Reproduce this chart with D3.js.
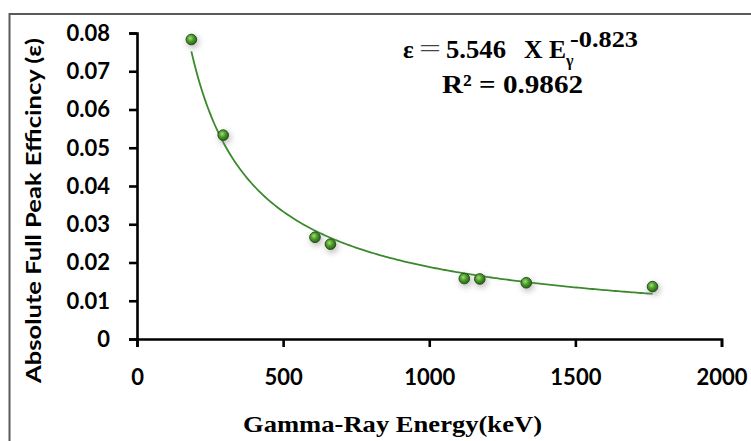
<!DOCTYPE html>
<html><head><meta charset="utf-8">
<script src="https://cdn.jsdelivr.net/npm/d3@7"></script>
<style>html,body{margin:0;padding:0;background:#fff;}svg{display:block;}</style>
</head><body>
<svg id="chart" width="751" height="441"></svg>
<script>
// ---- data ----
const energies = [186, 295, 609, 662, 1120, 1173, 1332, 1764];          // keV
const efficiencies = [0.0783, 0.0533, 0.0266, 0.0248, 0.0158, 0.0157, 0.0147, 0.0137];
const xTicks = [0, 500, 1000, 1500, 2000];
const yTicks = [0, 0.01, 0.02, 0.03, 0.04, 0.05, 0.06, 0.07, 0.08];
const yTickLabels = ["0", "0.01", "0.02", "0.03", "0.04", "0.05", "0.06", "0.07", "0.08"];
const fitA = 5.546, fitB = -0.823;   // trendline coefficients shown on the chart
const fitR2 = "0.9862";
const xTitle = "Gamma-Ray Energy(keV)";
const yTitle = "Absolute Full Peak Efficincy (ε)";

const svg = d3.select("#chart");
svg.append("rect").attr("width", 751).attr("height", 441).attr("fill", "#fff");
// frame
svg.append("rect").attr("x", 9.5).attr("y", 14).attr("width", 800).attr("height", 500)
  .attr("fill", "none").attr("stroke", "#5a5a5a").attr("stroke-width", 2);

const x = d3.scaleLinear().domain([0, 2000]).range([137, 721.5]);
const y = d3.scaleLinear().domain([0, 0.08]).range([339, 33]);

const defs = svg.append("defs");
const grad = defs.append("radialGradient").attr("id", "ball").attr("cx", "40%").attr("cy", "38%").attr("r", "65%");
grad.append("stop").attr("offset", "0%").attr("stop-color", "#a6dc78");
grad.append("stop").attr("offset", "45%").attr("stop-color", "#4f9e2c");
grad.append("stop").attr("offset", "100%").attr("stop-color", "#255e16");
const f = defs.append("filter").attr("id", "shadow").attr("x", "-100%").attr("y", "-100%").attr("width", "300%").attr("height", "300%");
f.append("feGaussianBlur").attr("stdDeviation", 3);

// axes
const yAxis = d3.axisLeft(y).tickValues(yTicks).tickSize(8).tickSizeOuter(8).tickPadding(19)
  .tickFormat((d, i) => yTickLabels[i]);
const xAxis = d3.axisBottom(x).tickValues(xTicks).tickSize(8).tickSizeOuter(8).tickPadding(20)
  .tickFormat(d3.format("d"));

const gy = svg.append("g").attr("transform", `translate(${x(0)},0)`).call(yAxis);
const gx = svg.append("g").attr("transform", `translate(0,${y(0)})`).call(xAxis);
[gx, gy].forEach(g => {
  g.selectAll("path,line").attr("stroke", "#000").attr("stroke-width", 2.6);
  g.selectAll("text").attr("fill", "#000").attr("font-family", "Lato, 'Open Sans', sans-serif")
    .attr("font-weight", "bold").attr("font-size", 22);
});
gy.selectAll("text").attr("dy", "0.34em");
gx.selectAll("text").attr("dy", "0.8em");

// trend curve
const curveE = d3.range(0, 201).map(i => energies[0] + (energies[energies.length - 1] - energies[0]) * i / 200);
const line = d3.line().x(e => x(e)).y(e => y(fitA * Math.pow(e, fitB)));
svg.append("path").datum(curveE).attr("d", line).attr("fill", "none")
  .attr("stroke", "#3a8a2c").attr("stroke-width", 1.8);

// points
const pts = energies.map((e, i) => ({ e, v: efficiencies[i] }));
svg.append("g").selectAll("circle").data(pts).join("circle")
  .attr("cx", d => x(d.e) + 1.5).attr("cy", d => y(d.v) + 2.5).attr("r", 6)
  .attr("fill", "#8a8a8a").attr("opacity", 0.6).attr("filter", "url(#shadow)");
svg.append("g").selectAll("circle").data(pts).join("circle")
  .attr("cx", d => x(d.e)).attr("cy", d => y(d.v)).attr("r", 5.3)
  .attr("fill", "url(#ball)").attr("stroke", "#22521a").attr("stroke-width", 1);

// axis titles
svg.append("text").attr("x", 243).attr("y", 432).attr("textLength", 299).attr("lengthAdjust", "spacingAndGlyphs")
  .attr("font-family", "'Liberation Serif', 'Times New Roman', serif").attr("font-weight", "bold")
  .attr("font-size", 23).attr("fill", "#000").text(xTitle);
svg.append("text").attr("transform", "translate(41,383) rotate(-90)").attr("textLength", 345)
  .attr("lengthAdjust", "spacingAndGlyphs")
  .attr("font-family", "Lato, 'Open Sans', sans-serif").attr("font-weight", "bold")
  .attr("font-size", 21).attr("fill", "#000").text(yTitle);

// equation
const serif = "'Liberation Serif', 'Times New Roman', serif";
const eq = svg.append("g").attr("font-family", serif).attr("fill", "#000");
eq.append("text").attr("x", 403).attr("y", 58).attr("font-size", 25).attr("font-weight", "bold").text("ε");
eq.append("text").attr("x", 419).attr("y", 57).attr("font-size", 25).attr("fill", "#444")
  .attr("textLength", 22).attr("lengthAdjust", "spacingAndGlyphs").text("=");
eq.append("text").attr("x", 446).attr("y", 58).attr("font-size", 25).attr("font-weight", "bold")
  .attr("textLength", 60).attr("lengthAdjust", "spacingAndGlyphs").text(String(fitA));
eq.append("text").attr("x", 524).attr("y", 58).attr("font-size", 25).attr("font-weight", "bold")
  .attr("textLength", 42).attr("lengthAdjust", "spacingAndGlyphs").text("X E");
eq.append("text").attr("x", 566).attr("y", 66).attr("font-size", 16).attr("font-weight", "bold").text("γ");
eq.append("text").attr("x", 570).attr("y", 47).attr("font-size", 24).attr("font-weight", "bold")
  .attr("textLength", 68).attr("lengthAdjust", "spacingAndGlyphs").text(String(fitB));
eq.append("text").attr("x", 442).attr("y", 93).attr("font-size", 26).attr("font-weight", "bold")
  .attr("textLength", 141).attr("lengthAdjust", "spacingAndGlyphs").text("R² = " + fitR2);
</script>
</body></html>
